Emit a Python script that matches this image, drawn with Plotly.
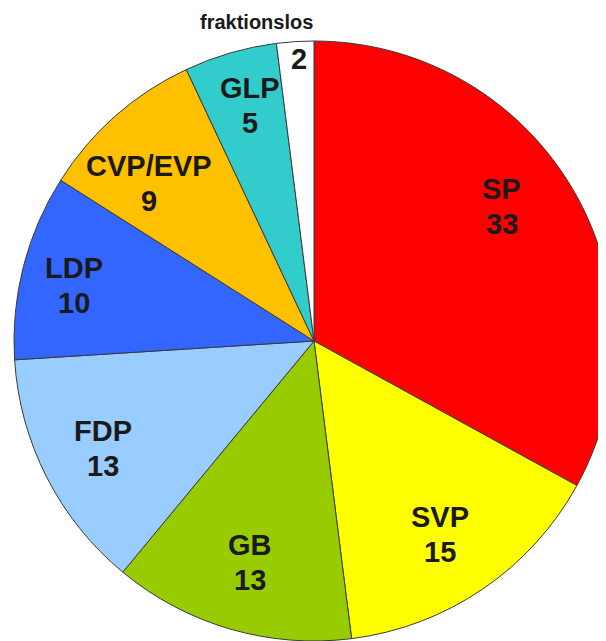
import math
import plotly.graph_objects as go

parties = ["SP", "SVP", "GB", "FDP", "LDP", "CVP/EVP", "GLP", "fraktionslos"]
seats = [33, 15, 13, 13, 10, 9, 5, 2]
colors = ["#FF0000", "#FFFF00", "#99CC00", "#99CCFF", "#3366FF", "#FFC000", "#33CCCC", "#FFFFFF"]

# label placement: radius fraction and small angle nudge (degrees) per slice
label_r = [0.77, 0.77, 0.77, 0.79, 0.82, 0.76, 0.815, 0.94]
label_da = [-5, 1, 0, 0, -1.4, -4.8, 1, 0.5]

W, H = 606, 641
# pie domain in pixels (figure coords): 600x600 square
x0, x1 = 6, 606
top, bottom = 33, 633
line_gap = 35  # px between party name and seat count

fig = go.Figure(
    go.Pie(
        labels=parties,
        values=seats,
        textinfo="none",
        sort=False,
        direction="clockwise",
        rotation=0,
        marker=dict(colors=colors, line=dict(color="#3a3a3a", width=1)),
        domain=dict(x=[x0 / W, x1 / W], y=[1 - bottom / H, 1 - top / H]),
        showlegend=False,
        hoverinfo="label+value",
    )
)

lab_font = dict(family="Liberation Sans, Arial", size=29, color="#1a1a1a")


def put(txt, px, py):
    fig.add_annotation(
        text=f"<b>{txt}</b>",
        x=px / W, y=1 - py / H,
        xref="paper", yref="paper",
        xanchor="center", yanchor="middle",
        showarrow=False,
        font=lab_font,
    )


# slice labels, placed around the middle angle of each slice
cx, cy = (x0 + x1) / 2, (top + bottom) / 2
R = (x1 - x0) / 2
total = sum(seats)
cum = 0
for p, s, f, da in zip(parties, seats, label_r, label_da):
    mid = (cum + s / 2) / total * 2 * math.pi + math.radians(da)
    cum += s
    px = cx + f * R * math.sin(mid)
    py = cy - f * R * math.cos(mid)
    if p == "fraktionslos":
        put(s, px, py)
    else:
        put(p, px, py - line_gap / 2)
        put(s, px, py + line_gap / 2)

fig.add_annotation(
    text="<b>fraktionslos</b>",
    x=248 / W, y=1 - 14 / H,
    xref="paper", yref="paper",
    xanchor="center", yanchor="middle",
    showarrow=False,
    font=dict(family="Liberation Sans, Arial", size=20, color="#1a1a1a"),
)

fig.update_layout(
    width=W,
    height=H,
    margin=dict(l=0, r=0, t=0, b=0),
    paper_bgcolor="white",
)

fig.write_html("out.html")
